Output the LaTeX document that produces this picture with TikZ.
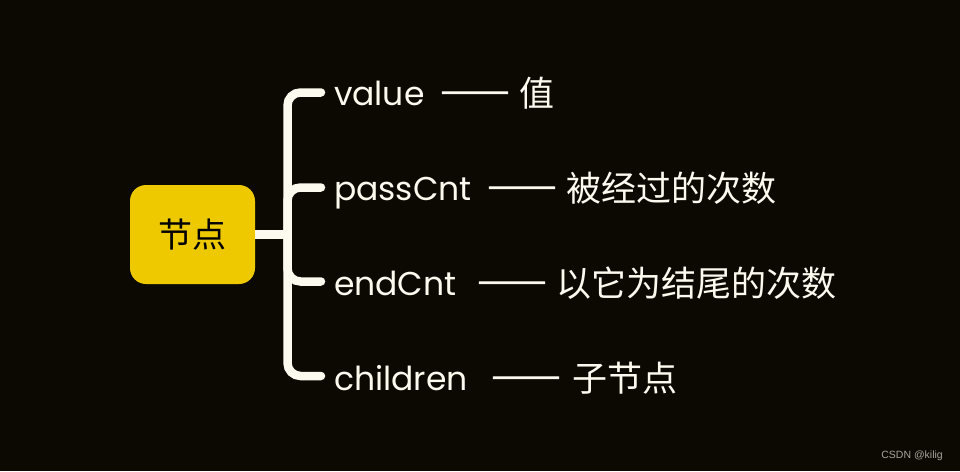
\documentclass[tikz,border=0pt]{standalone}
\usepackage{fontspec}
\setmainfont{Poppins}
\newfontfamily\cjk{Noto Sans CJK SC}
\newfontfamily\cjkdash{Noto Sans CJK SC}[RawFeature=+fwid,FakeBold=4]
\newfontfamily\wmfont{Liberation Sans}
\definecolor{bgc}{RGB}{12,9,3}
\definecolor{boxc}{RGB}{238,201,0}
\definecolor{linec}{RGB}{252,249,238}
\definecolor{wmc}{RGB}{165,165,160}
\newcommand{\dashpair}{{\cjkdash ——}}
\begin{document}
\begin{tikzpicture}[x=1pt,y=-1pt,
  br/.style={draw=linec,line width=8.5pt,line cap=round,rounded corners=13pt},
  lab/.style={anchor=base west,inner sep=0pt,outer sep=0pt,text=linec,font=\fontsize{33}{33}\selectfont},
  mean/.style={anchor=base west,inner sep=0pt,outer sep=0pt,text=linec,font=\cjk\fontsize{35}{35}\selectfont},
  rootbox/.style={fill=boxc,rounded corners=16pt,minimum width=125pt,minimum height=99pt,inner sep=0pt,font=\cjk\fontsize{34}{34}\selectfont,text=black}]
\fill[bgc] (0,0) rectangle (960,471);
\useasboundingbox (0,0) rectangle (960,471);
\node[rootbox] (jd) at (192.5,234.5) {节点};
\coordinate (spine) at (287.5,234.5);
\coordinate (e1) at (321,92.5);
\coordinate (e2) at (321,187.5);
\coordinate (e3) at (321,281.5);
\coordinate (e4) at (321,376);
\node[lab] (l1) at (334,105) {value};
\node[lab] (l2) at (334,200) {passCnt};
\node[lab] (l3) at (334,295) {endCnt};
\node[lab] (l4) at (334,390) {children};
\node[mean] (m1) at (440,106) {\dashpair\hspace{9pt}值};
\node[mean] (m2) at (487,201) {\dashpair\hspace{9pt}被经过的次数};
\node[mean] (m3) at (477,296) {\dashpair\hspace{9pt}以它为结尾的次数};
\node[mean] (m4) at (491,391) {\dashpair\hspace{11pt}子节点};
\draw[br,line cap=butt] (jd.east) -- (spine);
\draw[br] (spine) |- (e1);
\draw[br] (spine) |- (e2);
\draw[br] (spine) |- (e3);
\draw[br] (spine) |- (e4);
\node[anchor=base east,inner sep=0pt,text=wmc,font=\wmfont\fontsize{10.5}{10.5}\selectfont] (wm) at (943,458.5) {CSDN @kilig};
\end{tikzpicture}
\end{document}
